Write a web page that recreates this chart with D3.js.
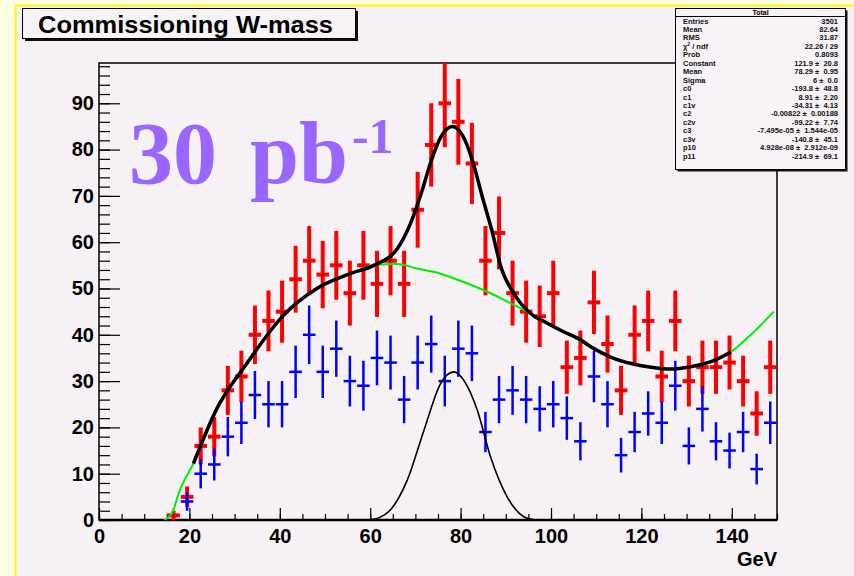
<!DOCTYPE html>
<html>
<head>
<meta charset="utf-8">
<script src="https://cdn.jsdelivr.net/npm/d3@7"></script>
<style>
  body { margin: 0; background: #ffffe6; }
  svg { display: block; font-family: "Liberation Sans", Arial, sans-serif; }
</style>
</head>
<body>
<div id="chart"></div>
<script>
// Histogram bin centres (GeV), 3 GeV bins
const binCenters = [16.5, 19.5, 22.5, 25.5, 28.5, 31.5, 34.5, 37.5, 40.5, 43.5,
  46.5, 49.5, 52.5, 55.5, 58.5, 61.5, 64.5, 67.5, 70.5, 73.5,
  76.5, 79.5, 82.5, 85.5, 88.5, 91.5, 94.5, 97.5, 100.5, 103.5,
  106.5, 109.5, 112.5, 115.5, 118.5, 121.5, 124.5, 127.5, 130.5, 133.5,
  136.5, 139.5, 142.5, 145.5, 148.5];

// Total sample (red) and second sample (blue)
const redCounts = [1, 5, 16, 18, 28, 31, 40, 43, 45, 52,
  56, 53, 55, 49, 55, 51, 56, 51, 67, 81,
  90, 86, 77, 56, 62, 49, 45, 44, 49, 33,
  35, 47, 38, 28, 40, 43, 31, 43, 30, 33,
  33, 34, 30, 23, 33];
const blueCounts = [null, 4, 10, 12, 18, 21, 27, 25, 25, 32,
  40, 32, 37, 30, 29, 35, 34, 26, 34, 38,
  30, 37, 36, 19, 26, 28, 26, 24, 25, 22,
  17, 31, 25, 14, 19, 23, 21, 29, 16, 24,
  17, 15, 19, 11, 21];

// Fit curves
const totalFitX = [20.9, 26.1, 32.7, 40.8, 48.2, 55.6, 60.8, 66, 68.9, 71.5, 73.3, 75.6, 78.2,
  80.4, 82.6, 84.8, 87, 88.9, 91.8, 95.5, 99.2, 102.9, 106.6, 108.8, 113.2, 117.7, 122.1,
  126.5, 130.9, 135.4, 139.8];
const totalFitY = [12.2, 24.1, 33.8, 44.2, 50, 53.2, 55, 58.6, 64, 71.2, 77, 82.7, 85,
  83.1, 77.7, 69.8, 62.2, 54.7, 48.9, 44.6, 42.5, 40.6, 38.9, 37.4, 35.2, 33.8, 33,
  32.6, 33.1, 34.2, 36.3];
const bkgFitX = [14.4, 16.1, 17.9, 20.9, 26.1, 32.7, 40.8, 48.2, 55.6, 60.8, 66, 70.4, 75.6,
  80.7, 85.9, 91.1, 95.5, 99.2, 102.9, 108.8, 113.2, 117.7, 122.1, 126.5, 130.9, 135.4,
  139.8, 144.1, 149.3];
const bkgFitY = [0, 1.4, 6.5, 12.2, 24.1, 33.8, 44.2, 50, 53.2, 55, 55.3, 54.3, 53.2,
  51.4, 49.3, 46.8, 44.6, 42.5, 40.6, 37.4, 35.2, 33.8, 33, 32.6, 33.1, 34.2,
  36.3, 39.9, 45];
const gausX = [59.5, 62, 64.5, 68.2, 71.9, 75.6, 78.5, 80.7, 83.7, 86.6, 90.3, 94, 96.5];
const gausY = [0, 0.5, 2.2, 8.6, 19.4, 29.5, 32, 30.2, 23.7, 13.7, 5, 0.7, 0];

// Axis ticks
const xMajorTicks = [0, 20, 40, 60, 80, 100, 120, 140];
const yMajorTicks = [0, 10, 20, 30, 40, 50, 60, 70, 80, 90];

// Stats box
const statsRows = [
  ['Entries', '3501'], ['Mean', '82.64'], ['RMS', '31.87'], ['chi2', '22.26 / 29'],
  ['Prob', '0.8093'], ['Constant', '121.9 ±  20.8'], ['Mean', '78.29 ±  0.95'],
  ['Sigma', '6 ±  0.0'], ['c0', '-193.8 ±  48.8'], ['c1', '8.91 ±  2.20'],
  ['c1v', '-34.31 ±  4.13'], ['c2', '-0.00822 ±  0.00188'], ['c2v', '-99.22 ±  7.74'],
  ['c3', '-7.495e-05 ±  1.544e-05'], ['c3v', '-140.8 ±  45.1'],
  ['p10', '4.928e-08 ±  2.912e-09'], ['p11', '-214.9 ±  69.1']
];

const W = 854, H = 576;
const svg = d3.select('#chart').append('svg')
  .attr('width', W).attr('height', H);

// Page background and yellow pad border
svg.append('rect').attr('width', W).attr('height', H).attr('fill', '#ffffe6');
svg.append('rect').attr('x', 16).attr('y', 6).attr('width', W - 16).attr('height', H - 6)
  .attr('fill', '#f5f1f5');
svg.append('line').attr('x1', 15.5).attr('x2', 15.5).attr('y1', 5).attr('y2', H)
  .attr('stroke', '#ffff00').attr('stroke-width', 2);
svg.append('line').attr('x1', 15).attr('x2', W).attr('y1', 5.5).attr('y2', 5.5)
  .attr('stroke', '#ffff00').attr('stroke-width', 2);

// Scales
const frame = { left: 99, right: 777, top: 63, bottom: 520 };
const xScale = d3.scaleLinear().domain([0, 150]).range([frame.left, frame.right]);
const yScale = d3.scaleLinear().domain([0, 98.7]).range([frame.bottom, frame.top]);
const binWidth = xScale(3) - xScale(0);

svg.append('clipPath').attr('id', 'frameClip')
  .append('rect')
  .attr('x', frame.left).attr('y', frame.top)
  .attr('width', frame.right - frame.left).attr('height', frame.bottom - frame.top);

// Axes (ticks pointing inwards, ROOT style)
const xAxisG = svg.append('g').attr('transform', `translate(0,${frame.bottom})`);
xAxisG.append('g')
  .call(d3.axisBottom(xScale).tickValues(d3.range(0, 151, 5)).tickSize(-6).tickFormat(''));
xAxisG.append('g')
  .call(d3.axisBottom(xScale).tickValues(xMajorTicks).tickSize(-12).tickPadding(9).tickFormat(d3.format('d')));
xAxisG.selectAll('.domain').remove();
xAxisG.selectAll('line').attr('stroke', '#000').attr('stroke-width', 1.2);
xAxisG.selectAll('text').attr('font-size', 20).attr('font-weight', 'bold').attr('fill', '#000');

const yAxisG = svg.append('g').attr('transform', `translate(${frame.left},0)`);
yAxisG.append('g')
  .call(d3.axisLeft(yScale).tickValues(d3.range(0, 99, 2)).tickSize(-11).tickFormat(''));
yAxisG.append('g')
  .call(d3.axisLeft(yScale).tickValues(yMajorTicks).tickSize(-21).tickPadding(5).tickFormat(d3.format('d')));
yAxisG.selectAll('.domain').remove();
yAxisG.selectAll('line').attr('stroke', '#000').attr('stroke-width', 1.2);
yAxisG.selectAll('text').attr('font-size', 20).attr('font-weight', 'bold').attr('fill', '#000');

// Frame
svg.append('rect')
  .attr('x', frame.left).attr('y', frame.top)
  .attr('width', frame.right - frame.left).attr('height', frame.bottom - frame.top)
  .attr('fill', 'none').attr('stroke', '#000').attr('stroke-width', 1.5);
svg.append('line')
  .attr('x1', frame.left).attr('x2', frame.right)
  .attr('y1', frame.bottom).attr('y2', frame.bottom)
  .attr('stroke', '#000').attr('stroke-width', 2.5);

svg.append('text')
  .attr('x', frame.right).attr('y', 566)
  .attr('text-anchor', 'end')
  .attr('font-size', 20).attr('font-weight', 'bold')
  .text('GeV');

const plot = svg.append('g').attr('clip-path', 'url(#frameClip)');

// Error-bar crosses
function drawCrosses(values, color, lw, cls) {
  const pts = binCenters.map((c, i) => ({ c, v: values[i] })).filter(d => d.v != null);
  const g = plot.append('g').attr('class', cls).attr('stroke', color).attr('stroke-width', lw);
  g.selectAll('.v').data(pts).enter().append('line')
    .attr('x1', d => xScale(d.c)).attr('x2', d => xScale(d.c))
    .attr('y1', d => yScale(d.v + Math.sqrt(d.v)))
    .attr('y2', d => yScale(Math.max(0, d.v - Math.sqrt(d.v))));
  g.selectAll('.h').data(pts).enter().append('line')
    .attr('x1', d => xScale(d.c) - binWidth / 2 + 0.5)
    .attr('x2', d => xScale(d.c) + binWidth / 2 - 0.5)
    .attr('y1', d => yScale(d.v)).attr('y2', d => yScale(d.v));
  return pts;
}

const redPts = drawCrosses(redCounts, '#ff0000', 4, 'red');
plot.append('g').selectAll('circle').data(redPts).enter().append('circle')
  .attr('cx', d => xScale(d.c)).attr('cy', d => yScale(d.v))
  .attr('r', 0.8).attr('fill', '#000');
drawCrosses(blueCounts, '#0000ff', 2.5, 'blue');

// Fit curves
const line = d3.line()
  .x(d => xScale(d[0]))
  .y(d => yScale(d[1]))
  .curve(d3.curveMonotoneX);

plot.append('path')
  .datum(d3.zip(bkgFitX, bkgFitY))
  .attr('d', line)
  .attr('fill', 'none').attr('stroke', '#00ee00').attr('stroke-width', 2);

plot.append('path')
  .datum(d3.zip(totalFitX, totalFitY))
  .attr('d', line)
  .attr('fill', 'none').attr('stroke', '#000').attr('stroke-width', 3.5);

plot.append('path')
  .datum(d3.zip(gausX, gausY))
  .attr('d', line)
  .attr('fill', 'none').attr('stroke', '#000').attr('stroke-width', 1.6);

// Luminosity label
const lumi = svg.append('text')
  .attr('x', 129).attr('y', 183)
  .attr('font-family', '"Liberation Serif", "Times New Roman", serif')
  .attr('font-weight', 'bold').attr('font-size', 88)
  .attr('fill', '#9966ff');
lumi.append('tspan').text('30');
lumi.append('tspan').attr('dx', 33).text('pb');
lumi.append('tspan').attr('font-size', 50).attr('dy', -30).attr('dx', 4).text('-1');

// Title box
svg.append('rect').attr('x', 25).attr('y', 11).attr('width', 333).attr('height', 30).attr('fill', '#111');
svg.append('rect').attr('x', 22.5).attr('y', 8.5).attr('width', 333).attr('height', 30)
  .attr('fill', '#f7f3f7').attr('stroke', '#000').attr('stroke-width', 1);
svg.append('text')
  .attr('x', 38).attr('y', 33)
  .attr('font-size', 24).attr('font-weight', 'bold')
  .attr('textLength', 295).attr('lengthAdjust', 'spacingAndGlyphs')
  .text('Commissioning W-mass');

// Stats box
const sb = { x: 675.5, y: 8.5, w: 170, h: 161 };
svg.append('rect').attr('x', sb.x + 2).attr('y', sb.y + 2).attr('width', sb.w).attr('height', sb.h).attr('fill', '#111');
svg.append('rect').attr('x', sb.x).attr('y', sb.y).attr('width', sb.w).attr('height', sb.h)
  .attr('fill', '#f7f3f7').attr('stroke', '#000').attr('stroke-width', 1);
svg.append('line').attr('x1', sb.x).attr('x2', sb.x + sb.w).attr('y1', 16.5).attr('y2', 16.5)
  .attr('stroke', '#000').attr('stroke-width', 1);
svg.append('text').attr('x', sb.x + sb.w / 2).attr('y', 15)
  .attr('text-anchor', 'middle').attr('font-size', 7).attr('font-weight', 'bold').text('Total');

const rows = svg.append('g').attr('font-size', 7.5).attr('font-weight', 'bold').attr('fill', '#111');
statsRows.forEach((r, i) => {
  const y = 23.5 + i * 8.45;
  const lab = rows.append('text').attr('x', 683).attr('y', y);
  if (r[0] === 'chi2') {
    lab.append('tspan').text('χ');
    lab.append('tspan').attr('font-size', 5).attr('dy', -3).text('2');
    lab.append('tspan').attr('dy', 3).text(' / ndf');
  } else {
    lab.text(r[0]);
  }
  rows.append('text').attr('x', 838).attr('y', y).attr('text-anchor', 'end')
    .attr('xml:space', 'preserve').text(r[1]);
});
</script>
</body>
</html>
